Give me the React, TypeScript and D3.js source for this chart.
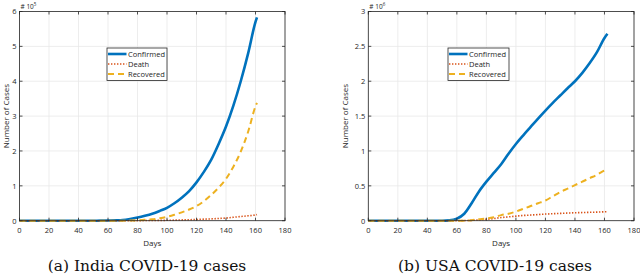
import React from "react";
import * as d3 from "d3";

const indiaDays = [0,5,10,15,20,25,30,35,40,45,50,55,60,65,70,75,80,85,90,95,100,105,110,115,120,125,130,135,140,145,150,155,160,161];
const indiaConfirmed = [0,0,0,0,0,0,0,0,0,0,0.0005,0.001,0.004,0.01,0.02,0.05,0.09,0.14,0.2,0.28,0.37,0.5,0.66,0.85,1.1,1.4,1.75,2.2,2.7,3.3,4.0,4.8,5.7,5.83];
const indiaDeath = [0,0,0,0,0,0,0,0,0,0,0,0,0,0,0,0.001,0.002,0.004,0.006,0.009,0.011,0.016,0.022,0.028,0.035,0.044,0.053,0.064,0.077,0.098,0.12,0.14,0.165,0.174];
const indiaRecovered = [0,0,0,0,0,0,0,0,0,0,0,0,0,0,0.001,0.005,0.01,0.025,0.04,0.07,0.11,0.17,0.24,0.32,0.42,0.56,0.74,0.95,1.2,1.55,1.98,2.55,3.28,3.38];

const usaDays = [0,5,10,15,20,25,30,35,40,45,50,55,60,65,70,75,80,85,90,95,100,105,110,115,120,125,130,135,140,145,150,155,160,162];
const usaConfirmed = [0,0,0,0,0,0,0,0,0,0,0.0002,0.005,0.03,0.1,0.25,0.42,0.56,0.685,0.81,0.96,1.1,1.225,1.345,1.465,1.58,1.69,1.795,1.9,2.0,2.12,2.26,2.42,2.62,2.68];
const usaDeath = [0,0,0,0,0,0,0,0,0,0,0,0,0.0004,0.0015,0.005,0.012,0.02,0.03,0.045,0.055,0.065,0.075,0.081,0.088,0.095,0.1,0.105,0.11,0.114,0.117,0.12,0.123,0.128,0.13];
const usaRecovered = [0,0,0,0,0,0,0,0,0,0,0,0,0.0002,0.001,0.008,0.02,0.03,0.05,0.08,0.1,0.13,0.17,0.21,0.25,0.29,0.35,0.41,0.46,0.51,0.56,0.61,0.66,0.72,0.74];

const xTicks = [0,20,40,60,80,100,120,140,160,180];
const indiaYTicks = [0,1,2,3,4,5,6];
const usaYTicks = [0,0.5,1,1.5,2,2.5,3];
const seriesNames = ["Confirmed","Death","Recovered"];
const colors = ["#0072BD","#D95319","#EDB120"];

const axisColor = "#262626";
const sans = "'Open Sans', 'Noto Sans', sans-serif";

type PanelProps = {
  x0: number; x1: number; y0: number; y1: number;
  days: number[]; series: number[][]; yMax: number; yTicks: number[];
  exponent: string; legendX: number; legendW: number; ylabelX: number;
  caption: string; captionX: number;
};

function Panel(p: PanelProps) {
  const xs = d3.scaleLinear().domain([0, 180]).range([p.x0, p.x1]);
  const ys = d3.scaleLinear().domain([0, p.yMax]).range([p.y1, p.y0]);
  const styles = [
    { w: 2.6, dash: undefined as string | undefined },
    { w: 1.6, dash: "1.4,1.6" },
    { w: 2.0, dash: "6,4" },
  ];
  const lines = p.series.map((vals) =>
    d3.line<number>().x((_, i) => xs(p.days[i])).y((v) => ys(v)).curve(d3.curveMonotoneX)(vals) || ""
  );
  const tl = 3;
  const ly = 48;
  return (
    <g>
      {xTicks.map((t) => (
        <line key={"gx" + t} x1={xs(t)} x2={xs(t)} y1={p.y0} y2={p.y1} stroke="#e8e8e8" strokeWidth={0.8} />
      ))}
      {p.yTicks.map((t) => (
        <line key={"gy" + t} x1={p.x0} x2={p.x1} y1={ys(t)} y2={ys(t)} stroke="#e8e8e8" strokeWidth={0.8} />
      ))}
      {lines.map((d, i) => (
        <path key={"l" + i} d={d} fill="none" stroke={colors[i]} strokeWidth={styles[i].w}
          strokeDasharray={styles[i].dash} strokeLinejoin="round" />
      ))}
      <rect x={p.x0} y={p.y0} width={p.x1 - p.x0} height={p.y1 - p.y0} fill="none" stroke={axisColor} strokeWidth={0.8} />
      {xTicks.map((t) => (
        <g key={"tx" + t}>
          <line x1={xs(t)} x2={xs(t)} y1={p.y1} y2={p.y1 - tl} stroke={axisColor} strokeWidth={0.8} />
          <line x1={xs(t)} x2={xs(t)} y1={p.y0} y2={p.y0 + tl} stroke={axisColor} strokeWidth={0.8} />
          <text x={xs(t)} y={p.y1 + 12} textAnchor="middle" fontSize={7.5} fontFamily={sans} fill={axisColor}>{t}</text>
        </g>
      ))}
      {p.yTicks.map((t) => (
        <g key={"ty" + t}>
          <line x1={p.x0} x2={p.x0 + tl} y1={ys(t)} y2={ys(t)} stroke={axisColor} strokeWidth={0.8} />
          <line x1={p.x1} x2={p.x1 - tl} y1={ys(t)} y2={ys(t)} stroke={axisColor} strokeWidth={0.8} />
          <text x={p.x0 - 3} y={ys(t) + 2.8} textAnchor="end" fontSize={7.5} fontFamily={sans} fill={axisColor}>{t}</text>
        </g>
      ))}
      <text x={p.x0 + 1} y={p.y0 - 3} fontSize={6.5} fontFamily={sans} fill={axisColor}>
        {"# 10"}<tspan dy={-3} fontSize={4.5}>{p.exponent}</tspan>
      </text>
      <text x={(p.x0 + p.x1) / 2} y={p.y1 + 25} textAnchor="middle" fontSize={8} fontFamily={sans} fill={axisColor}>Days</text>
      <text transform={`translate(${p.ylabelX},${(p.y0 + p.y1) / 2}) rotate(-90)`} textAnchor="middle" fontSize={8} fontFamily={sans} fill={axisColor}>Number of Cases</text>
      <rect x={p.legendX} y={ly} width={p.legendW} height={32.5} fill="white" stroke={axisColor} strokeWidth={0.8} />
      {seriesNames.map((n, i) => (
        <g key={"lg" + i}>
          <line x1={p.legendX + 1} x2={p.legendX + 19.5} y1={ly + 6 + i * 10} y2={ly + 6 + i * 10}
            stroke={colors[i]} strokeWidth={styles[i].w} strokeDasharray={styles[i].dash} />
          <text x={p.legendX + 21} y={ly + 8.8 + i * 10} fontSize={7.5} fontFamily={sans} fill={axisColor}>{n}</text>
        </g>
      ))}
      <text x={p.captionX} y={271} textAnchor="middle" fontSize={15.5} fontFamily="'DejaVu Serif', 'Liberation Serif', serif" fill="#111">{p.caption}</text>
    </g>
  );
}

export default function App() {
  return (
    <svg width={640} height={275} style={{ display: "block", position: "absolute", left: 0, top: 0, background: "white" }}>
      <Panel x0={19.5} x1={285} y0={11.5} y1={220.7} days={indiaDays}
        series={[indiaConfirmed, indiaDeath, indiaRecovered]} yMax={6} yTicks={indiaYTicks}
        exponent="5" legendX={107} legendW={60} ylabelX={8.5} caption="(a) India COVID-19 cases" captionX={147} />
      <Panel x0={368.3} x1={634} y0={11.5} y1={220.7} days={usaDays}
        series={[usaConfirmed, usaDeath, usaRecovered]} yMax={3} yTicks={usaYTicks}
        exponent="6" legendX={448} legendW={61} ylabelX={347.5} caption="(b) USA COVID-19 cases" captionX={495} />
    </svg>
  );
}
